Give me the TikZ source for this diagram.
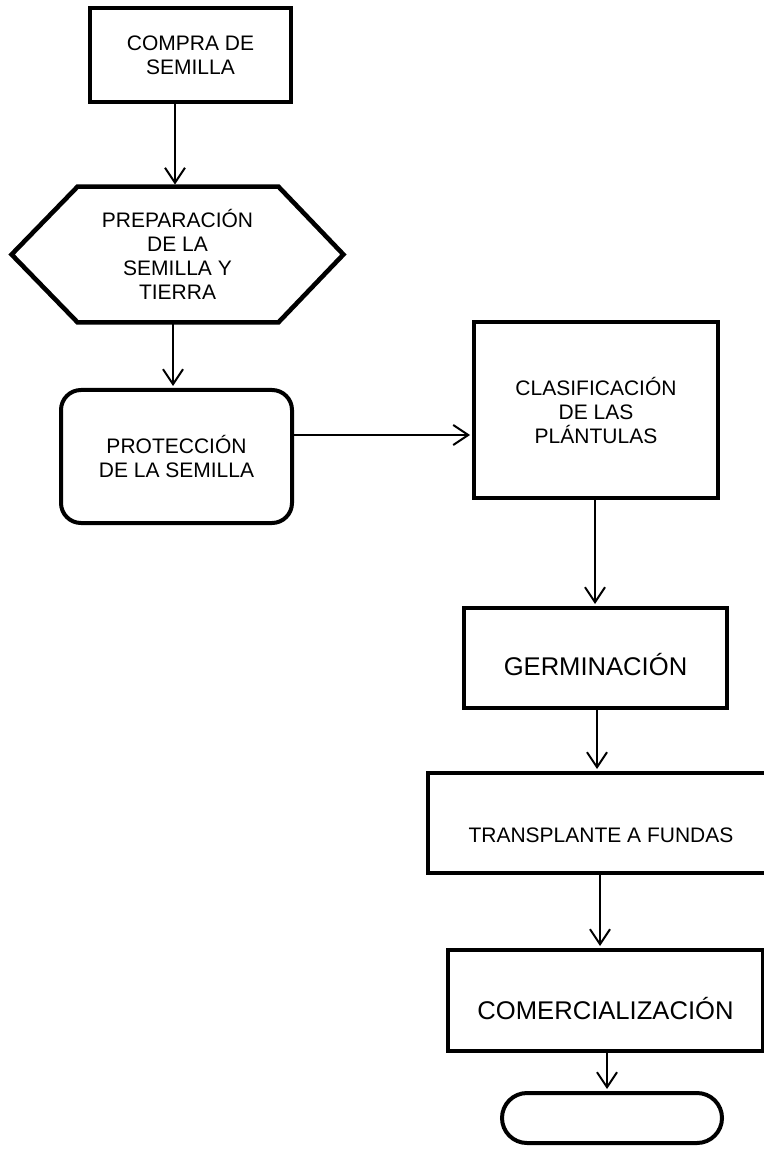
\documentclass[tikz,border=0pt]{standalone}
\usepackage{fontspec}
\setmainfont{Liberation Sans}
\usetikzlibrary{arrows.meta}
\begin{document}
\begin{tikzpicture}[x=0.5pt,y=-0.5pt,
  small/.style={font=\fontsize{10.5}{12}\selectfont},
  big/.style={font=\fontsize{12.8}{15}\selectfont},
  box/.style={draw=black, line width=2pt, inner sep=0pt, align=center, small},
  arr/.style={draw=black, line width=1pt, shorten >=1pt, -{Straight Barb[length=7.5pt,width=10pt]}}]
\path[clip] (0,0) rectangle (764,1149);
\fill[white] (0,0) rectangle (764,1149);

\node[box, minimum width=100.5pt, minimum height=47pt] (b1) at (190.5,55) {COMPRA DE\\SEMILLA};

\node[align=center, small, inner sep=0pt, minimum width=165.5pt, minimum height=67.5pt] (h) at (177.5,254.5) {PREPARACIÓN\\DE LA\\SEMILLA Y\\TIERRA};
\draw[line width=2.3pt, line join=miter] (h.west) -- ([xshift=33pt]h.north west) -- ([xshift=-32.5pt]h.north east) -- (h.east) -- ([xshift=-32.5pt]h.south east) -- ([xshift=33pt]h.south west) -- cycle;

\node[box, rounded corners=10pt, minimum width=115.5pt, minimum height=66.5pt] (p) at (176.5,456.5) {PROTECCIÓN\\DE LA SEMILLA};

\node[box, minimum width=122pt, minimum height=88pt] (c) at (596,410) {CLASIFICACIÓN\\DE LAS\\PLÁNTULAS};

\node[box, minimum width=131.5pt, minimum height=50pt, label={[big, yshift=-3.5pt]center:GERMINACIÓN}] (g) at (595.5,658) {};

\node[box, minimum width=173pt, minimum height=50pt, label={[small, yshift=-6pt]center:TRANSPLANTE A FUNDAS}] (t) at (601,823) {};

\node[box, minimum width=157.5pt, minimum height=50.5pt, label={[big, yshift=-4pt]center:COMERCIALIZACIÓN}] (m) at (605.5,1000.5) {};

\node[box, rounded corners=12.5pt, minimum width=110pt, minimum height=25pt] (e) at (612,1118) {};

\coordinate (x1) at (175,0);
\coordinate (x2) at (173,0);
\coordinate (y3) at (0,435);
\coordinate (x4) at (595,0);
\coordinate (x5) at (597,0);
\coordinate (x6) at (600,0);
\coordinate (x7) at (607,0);

\draw[arr] (b1.south -| x1) -- (h.north -| x1);
\draw[arr] (h.south -| x2) -- (p.north -| x2);
\draw[arr] (p.east |- y3) -- (c.west |- y3);
\draw[arr] (c.south -| x4) -- (g.north -| x4);
\draw[arr] (g.south -| x5) -- (t.north -| x5);
\draw[arr] (t.south -| x6) -- (m.north -| x6);
\draw[arr] (m.south -| x7) -- (e.north -| x7);
\end{tikzpicture}
\end{document}
